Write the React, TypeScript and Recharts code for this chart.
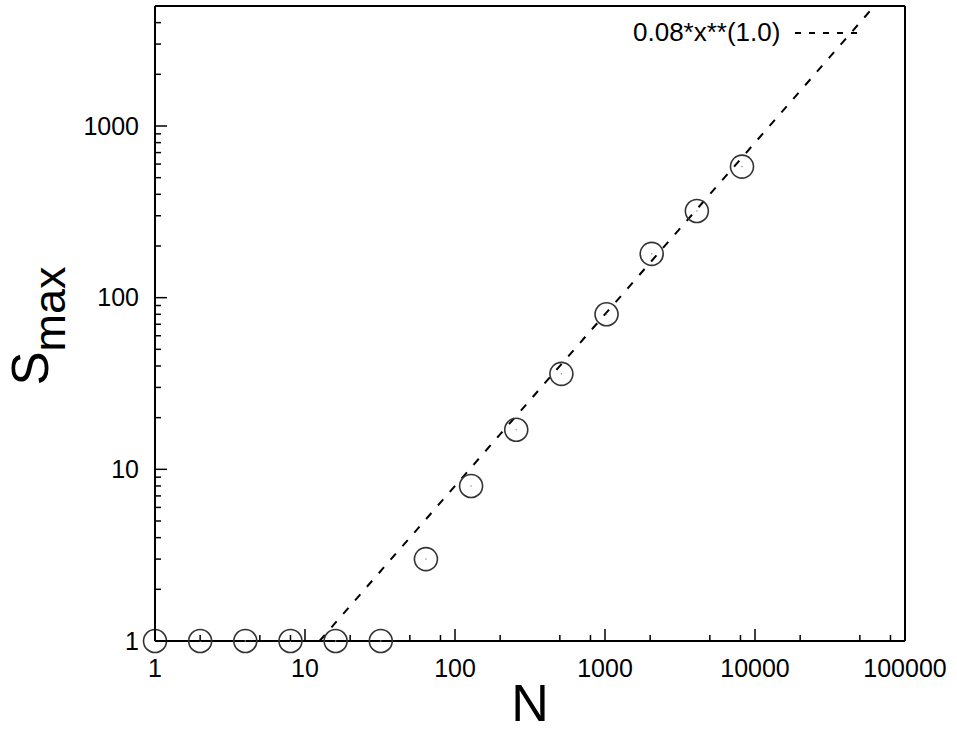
import { ComposedChart, Scatter, Line, XAxis, YAxis, Legend, Label } from 'recharts';

const FONT = '"Liberation Sans", Arial, Helvetica, sans-serif';

// measured points: N and the largest cluster size
const nValues = [1, 2, 4, 8, 16, 32, 64, 128, 256, 512, 1024, 2048, 4096, 8192];
const sMaxValues = [1, 1, 1, 1, 1, 1, 3, 8, 17, 36, 80, 180, 320, 580];

// fit 0.08*x**(1.0), straight in log-log: ends where it enters and leaves the frame
const fitN = [12.5, 62500];
const fitS = [1, 5000];

const xMajorTicks = [1, 10, 100, 1000, 10000, 100000];
const xMinorTicks = [2, 5, 8, 20, 50, 80, 200, 500, 800, 2000, 5000, 8000, 20000, 50000, 80000];
const yMajorTicks = [1, 10, 100, 1000];
const yMinorTicks = [
  2, 3, 4, 5, 6, 7, 8, 9,
  20, 30, 40, 50, 60, 70, 80, 90,
  200, 300, 400, 500, 600, 700, 800, 900,
  2000, 3000, 4000, 5000,
];

const points = nValues.map((n, i) => ({ n, s: sMaxValues[i] }));
const fitLine = fitN.map((n, i) => ({ n, s: fitS[i] }));
const xTicks = [...xMajorTicks, ...xMinorTicks].sort((a, b) => a - b);
const yTicks = [...yMajorTicks, ...yMinorTicks].sort((a, b) => a - b);

function XTick(props: any) {
  const { x, y, payload, side } = props;
  const v = payload.value;
  const major = xMajorTicks.includes(v);
  const len = major ? 12 : 6;
  const dir = side === 'bottom' ? -1 : 1;
  return (
    <g>
      <line x1={x} x2={x} y1={y} y2={y + dir * len} stroke="#000" strokeWidth={1.5} />
      {major && side === 'bottom' && (
        <text x={x} y={y + 36} textAnchor="middle" fontSize={25} fill="#000" fontFamily={FONT}>
          {v}
        </text>
      )}
    </g>
  );
}

function YTick(props: any) {
  const { x, y, payload, side } = props;
  const v = payload.value;
  const major = yMajorTicks.includes(v);
  const len = major ? 12 : 6;
  const dir = side === 'left' ? 1 : -1;
  return (
    <g>
      <line x1={x} x2={x + dir * len} y1={y} y2={y} stroke="#000" strokeWidth={1.5} />
      {major && side === 'left' && (
        <text x={x - 16} y={y} dy="0.35em" textAnchor="end" fontSize={25} fill="#000" fontFamily={FONT}>
          {v}
        </text>
      )}
    </g>
  );
}

function CircleMark(props: any) {
  const { cx, cy } = props;
  return (
    <g>
      <circle cx={cx} cy={cy} r={11.5} fill="none" stroke="#333" strokeWidth={1.6} />
      <circle cx={cx} cy={cy} r={0.8} fill="#999" />
    </g>
  );
}

function FitLegend() {
  return (
    <div style={{ display: 'flex', alignItems: 'center', fontFamily: FONT, fontSize: 26, color: '#000' }}>
      <span>0.08*x**(1.0)</span>
      <svg width={66} height={10} style={{ marginLeft: 15 }}>
        <line x1={0} x2={64} y1={5} y2={5} stroke="#000" strokeWidth={2} strokeDasharray="6 8" />
      </svg>
    </div>
  );
}

export default function App() {
  return (
    <div style={{ position: 'absolute', left: 0, top: 0, background: '#fff' }}>
      <ComposedChart
        width={957}
        height={732}
        margin={{ top: 0, right: 0, bottom: 0, left: 0 }}
        style={{ fontFamily: FONT }}
      >
        <XAxis
          xAxisId="b"
          dataKey="n"
          type="number"
          scale="log"
          domain={[1, 100000]}
          ticks={xTicks}
          interval={0}
          height={91}
          tickSize={0}
          tickMargin={0}
          tickLine={false}
          axisLine={{ stroke: '#000', strokeWidth: 2 }}
          tick={(p: any) => <XTick {...p} side="bottom" />}
        >
          <Label
            content={(p: any) => {
              const vb = p.viewBox;
              return (
                <text x={vb.x + vb.width / 2} y={721} textAnchor="middle" fontSize={52} fill="#000" fontFamily={FONT}>
                  N
                </text>
              );
            }}
          />
        </XAxis>
        <XAxis
          xAxisId="t"
          orientation="top"
          type="number"
          scale="log"
          domain={[1, 100000]}
          ticks={xTicks}
          interval={0}
          height={6}
          tickSize={0}
          tickMargin={0}
          tickLine={false}
          axisLine={{ stroke: '#000', strokeWidth: 2 }}
          tick={(p: any) => <XTick {...p} side="top" />}
        />
        <YAxis
          yAxisId="l"
          dataKey="s"
          type="number"
          scale="log"
          domain={[1, 5000]}
          ticks={yTicks}
          interval={0}
          width={155}
          tickSize={0}
          tickMargin={0}
          tickLine={false}
          axisLine={{ stroke: '#000', strokeWidth: 2 }}
          tick={(p: any) => <YTick {...p} side="left" />}
        >
          <Label
            content={() => (
              <text
                x={48}
                y={326}
                transform="rotate(-90, 48, 326)"
                textAnchor="middle"
                fill="#000"
                fontFamily={FONT}
              >
                <tspan fontSize={51}>S</tspan>
                <tspan fontSize={45} dy={17}>max</tspan>
              </text>
            )}
          />
        </YAxis>
        <YAxis
          yAxisId="r"
          orientation="right"
          type="number"
          scale="log"
          domain={[1, 5000]}
          ticks={yTicks}
          interval={0}
          width={52}
          tickSize={0}
          tickMargin={0}
          tickLine={false}
          axisLine={{ stroke: '#000', strokeWidth: 2 }}
          tick={(p: any) => <YTick {...p} side="right" />}
        />
        <Line
          data={fitLine}
          dataKey="s"
          xAxisId="b"
          yAxisId="l"
          type="linear"
          stroke="#000"
          strokeWidth={2}
          strokeDasharray="8 10"
          dot={false}
          activeDot={false}
          legendType="none"
          isAnimationActive={false}
        />
        <Scatter
          data={points}
          dataKey="s"
          xAxisId="b"
          yAxisId="l"
          shape={CircleMark}
          legendType="none"
          isAnimationActive={false}
        />
        <Legend
          layout="horizontal"
          verticalAlign="middle"
          wrapperStyle={{ top: 17, left: 633, width: 300 }}
          content={() => <FitLegend />}
        />
      </ComposedChart>
    </div>
  );
}
